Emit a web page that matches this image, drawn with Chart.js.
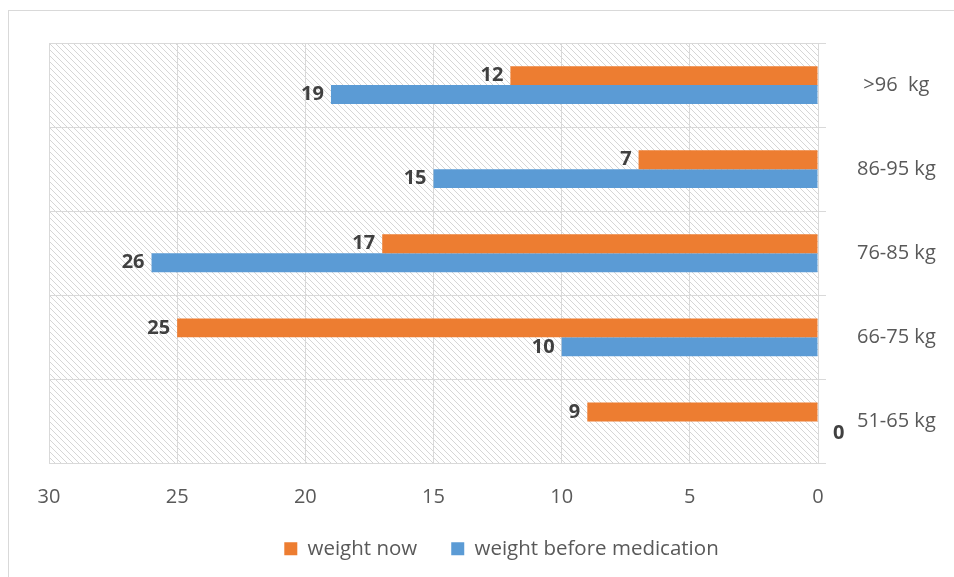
<!DOCTYPE html>
<html>
<head>
<meta charset="utf-8">
<script src="https://cdn.jsdelivr.net/npm/chart.js@4"></script>
<style>
  html, body { margin: 0; padding: 0; background: #fff; }
  #wrap { position: relative; width: 954px; height: 577px; }
  #frame { position: absolute; left: 8px; top: 10px; width: 960px; height: 580px; border: 1px solid #d9d9d9; box-sizing: border-box; }
  canvas { position: absolute; left: 0; top: 0; }
</style>
</head>
<body>
<div id="wrap">
  <div id="frame"></div>
  <canvas id="chart" width="954" height="577"></canvas>
</div>
<script>
const categories = ['>96  kg', '86-95 kg', '76-85 kg', '66-75 kg', '51-65 kg'];
const weightNow = [12, 7, 17, 25, 9];
const weightBefore = [19, 15, 26, 10, 0];
const xTicks = [0, 5, 10, 15, 20, 25, 30];

const FONT = '"Open Sans", "Noto Sans", sans-serif';

//..diagonal hatch behind the plot area
function makeHatch(ctx) {
    const tile = document.createElement('canvas');
    tile.width = 6;
    tile.height = 6;
    const t = tile.getContext('2d');
    t.fillStyle = '#ffffff';
    t.fillRect(0, 0, 6, 6);
    t.strokeStyle = '#d6d6d6';
    t.lineWidth = 1;
    t.beginPath();
    t.moveTo(-1, -1); t.lineTo(7, 7);
    t.moveTo(-1, 5); t.lineTo(1, 7);
    t.moveTo(5, -1); t.lineTo(7, 1);
    t.stroke();
    return ctx.createPattern(tile, 'repeat');
}

const hatchPlugin = {
    id: 'hatch',
    beforeDraw(chart) {
        const {ctx, chartArea: a} = chart;
        ctx.save();
        ctx.fillStyle = makeHatch(ctx);
        ctx.fillRect(a.left, a.top, a.right - a.left, a.bottom - a.top);
        ctx.restore();
    }
};

//..bold value labels at the end of each bar
const valueLabels = {
    id: 'valueLabels',
    afterDatasetsDraw(chart) {
        const ctx = chart.ctx;
        ctx.save();
        ctx.font = 'bold 20px ' + FONT;
        ctx.fillStyle = '#404040';
        ctx.textBaseline = 'middle';
        chart.data.datasets.forEach((ds, i) => {
            chart.getDatasetMeta(i).data.forEach((bar, j) => {
                const v = ds.data[j];
                if (v === 0) {
                    ctx.textAlign = 'left';
                    ctx.fillText(String(v), bar.x + 15, bar.y + 2);
                } else {
                    ctx.textAlign = 'right';
                    ctx.fillText(String(v), bar.x - 7, bar.y);
                }
            });
        });
        ctx.restore();
    }
};

new Chart(document.getElementById('chart'), {
    type: 'bar',
    data: {
        labels: categories,
        datasets: [{
            label: 'weight now',
            data: weightNow,
            backgroundColor: '#ED7D31',
            categoryPercentage: 0.45,
            barPercentage: 1
        }, {
            label: 'weight before medication',
            data: weightBefore,
            backgroundColor: '#5B9BD5',
            categoryPercentage: 0.45,
            barPercentage: 1
        }]
    },
    options: {
        indexAxis: 'y',
        responsive: false,
        animation: false,
        layout: { padding: { top: 40, left: 49, right: 0, bottom: 8 } },
        scales: {
            x: {
                reverse: true,
                min: 0,
                max: 30,
                afterBuildTicks: scale => { scale.ticks = xTicks.map(v => ({ value: v })); },
                afterFit: scale => { scale.height = 41; },
                grid: { color: '#d9d9d9', drawTicks: false },
                border: { color: '#d9d9d9' },
                ticks: { padding: 22, color: '#595959', font: { family: FONT, size: 20 } }
            },
            y: {
                position: 'right',
                afterFit: scale => { scale.width = 136; },
                grid: { color: '#d9d9d9', offset: true, tickLength: 8 },
                border: { color: '#d9d9d9' },
                ticks: { padding: 31, crossAlign: 'center', color: '#595959', font: { family: FONT, size: 20 } }
            }
        },
        plugins: {
            legend: {
                position: 'bottom',
                labels: {
                    boxWidth: 13,
                    boxHeight: 13,
                    padding: 34,
                    color: '#595959',
                    font: { family: FONT, size: 20.5 }
                }
            },
            tooltip: { enabled: false }
        }
    },
    plugins: [hatchPlugin, valueLabels]
});
</script>
</body>
</html>
